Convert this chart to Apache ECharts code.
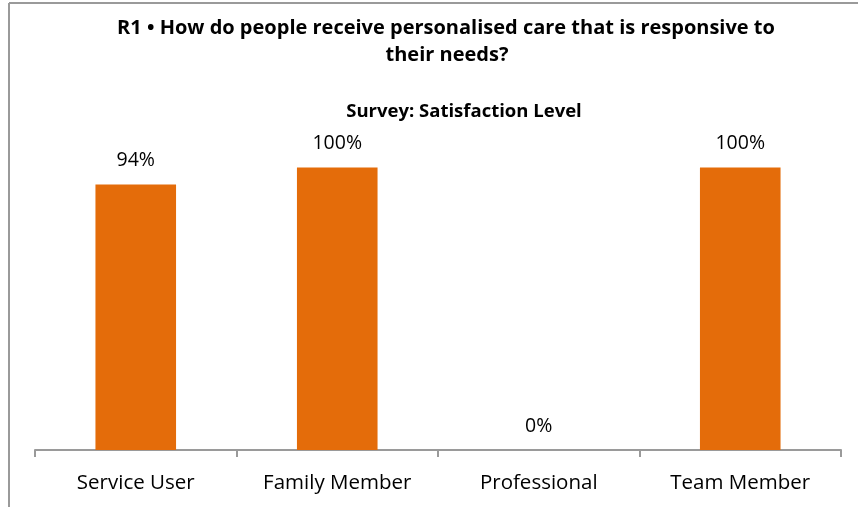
<!DOCTYPE html>
<html>
<head>
<meta charset="utf-8">
<script src="https://cdn.jsdelivr.net/npm/echarts@6/dist/echarts.min.js"></script>
<style>
  html, body { margin: 0; padding: 0; background: #fff; }
  #chart { width: 858px; height: 507px; }
</style>
</head>
<body>
<div id="chart"></div>
<script>
// Respondent groups and their satisfaction percentages
const categories = ['Service User', 'Family Member', 'Professional', 'Team Member'];
const satisfaction = [94, 100, 0, 100];

const titleLines = [
  'R1 \u2022 How do people receive personalised care that is responsive to',
  'their needs?'
];
const subtitle = 'Survey: Satisfaction Level';

const FONT = '"Open Sans", Lato, sans-serif';

const chart = echarts.init(document.getElementById('chart'), null, { renderer: 'canvas' });

chart.setOption({
  animation: false,
  backgroundColor: '#ffffff',
  grid: { left: 35, right: 17, top: 167.5, bottom: 57, containLabel: false },
  graphic: [
    // frame edges
    { type: 'line', shape: { x1: 9, y1: 3, x2: 858, y2: 3 }, style: { stroke: '#9a9a9a', lineWidth: 2 } },
    { type: 'line', shape: { x1: 9, y1: 3, x2: 9, y2: 507 }, style: { stroke: '#9a9a9a', lineWidth: 2 } },
    // heading
    { type: 'text', style: {
        text: titleLines[0], x: 446, y: 28, align: 'center', verticalAlign: 'middle',
        font: 'bold 20px ' + FONT, fill: '#000' } },
    { type: 'text', style: {
        text: titleLines[1], x: 447, y: 55, align: 'center', verticalAlign: 'middle',
        font: 'bold 20px ' + FONT, fill: '#000' } },
    { type: 'text', style: {
        text: subtitle, x: 464, y: 112, align: 'center', verticalAlign: 'middle',
        font: 'bold 18.5px ' + FONT, fill: '#000' } }
  ],
  xAxis: {
    type: 'category',
    data: categories,
    boundaryGap: true,
    axisLine: { show: true, lineStyle: { color: '#9a9a9a', width: 2 } },
    axisTick: { show: true, length: 7, lineStyle: { color: '#9a9a9a', width: 2 } },
    axisLabel: { color: '#000', fontFamily: FONT, fontSize: 20.5, margin: 23 }
  },
  yAxis: {
    type: 'value',
    min: 0,
    max: 100,
    show: false,
    splitLine: { show: false }
  },
  series: [{
    type: 'bar',
    data: satisfaction,
    barWidth: '40%',
    itemStyle: { color: '#E46C0A' },
    label: {
      show: true,
      position: 'top',
      distance: 14,
      formatter: p => p.value + '%',
      color: '#000',
      fontFamily: FONT,
      fontSize: 19.5
    }
  }]
});
</script>
</body>
</html>
